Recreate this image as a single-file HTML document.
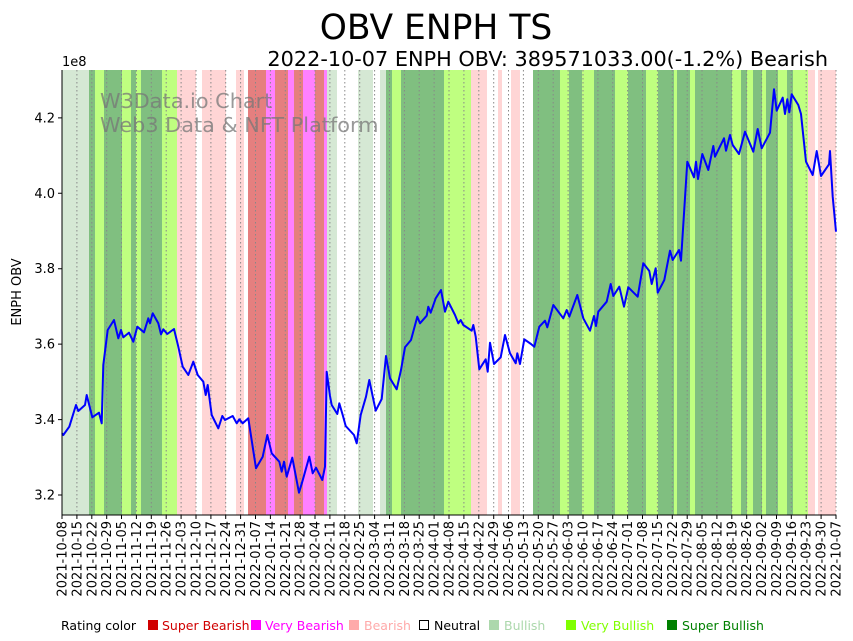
<!DOCTYPE html>
<html><head><meta charset="utf-8"><style>
body{margin:0;background:#fff}
svg{display:block;font-family:"DejaVu Sans","Liberation Sans",sans-serif}
</style></head><body>
<svg width="853" height="641" viewBox="0 0 853 641" xmlns="http://www.w3.org/2000/svg">
<rect width="853" height="641" fill="#fff"/>
<g shape-rendering="crispEdges">
<rect x="62" y="70" width="27" height="445" fill="#d5e8d4"/>
<rect x="89" y="70" width="6" height="445" fill="#80bf80"/>
<rect x="95" y="70" width="9" height="445" fill="#bfff80"/>
<rect x="104" y="70" width="18" height="445" fill="#80bf80"/>
<rect x="122" y="70" width="9" height="445" fill="#bfff80"/>
<rect x="131" y="70" width="5" height="445" fill="#80bf80"/>
<rect x="136" y="70" width="5" height="445" fill="#bfff80"/>
<rect x="141" y="70" width="21" height="445" fill="#80bf80"/>
<rect x="162" y="70" width="15" height="445" fill="#bfff80"/>
<rect x="177" y="70" width="19" height="445" fill="#ffd5d5"/>
<rect x="202" y="70" width="24" height="445" fill="#ffd5d5"/>
<rect x="236" y="70" width="8" height="445" fill="#ffd5d5"/>
<rect x="248" y="70" width="18" height="445" fill="#e57f7f"/>
<rect x="266" y="70" width="9" height="445" fill="#ff80ff"/>
<rect x="275" y="70" width="13" height="445" fill="#e57f7f"/>
<rect x="288" y="70" width="6" height="445" fill="#ff80ff"/>
<rect x="294" y="70" width="9" height="445" fill="#e57f7f"/>
<rect x="303" y="70" width="12" height="445" fill="#ff80ff"/>
<rect x="315" y="70" width="9" height="445" fill="#e57f7f"/>
<rect x="324" y="70" width="3" height="445" fill="#ff80ff"/>
<rect x="327" y="70" width="10" height="445" fill="#d5e8d4"/>
<rect x="358" y="70" width="15" height="445" fill="#d5e8d4"/>
<rect x="380" y="70" width="6" height="445" fill="#d5e8d4"/>
<rect x="386" y="70" width="6" height="445" fill="#80bf80"/>
<rect x="392" y="70" width="9" height="445" fill="#bfff80"/>
<rect x="401" y="70" width="43" height="445" fill="#80bf80"/>
<rect x="444" y="70" width="27" height="445" fill="#bfff80"/>
<rect x="471" y="70" width="16" height="445" fill="#ffd5d5"/>
<rect x="498" y="70" width="4" height="445" fill="#ffd5d5"/>
<rect x="511" y="70" width="9" height="445" fill="#ffd5d5"/>
<rect x="533" y="70" width="27" height="445" fill="#80bf80"/>
<rect x="560" y="70" width="9" height="445" fill="#bfff80"/>
<rect x="569" y="70" width="13" height="445" fill="#80bf80"/>
<rect x="582" y="70" width="12" height="445" fill="#bfff80"/>
<rect x="594" y="70" width="21" height="445" fill="#80bf80"/>
<rect x="615" y="70" width="13" height="445" fill="#bfff80"/>
<rect x="628" y="70" width="18" height="445" fill="#80bf80"/>
<rect x="646" y="70" width="12" height="445" fill="#bfff80"/>
<rect x="658" y="70" width="16" height="445" fill="#80bf80"/>
<rect x="674" y="70" width="3" height="445" fill="#bfff80"/>
<rect x="677" y="70" width="13" height="445" fill="#80bf80"/>
<rect x="690" y="70" width="5" height="445" fill="#bfff80"/>
<rect x="695" y="70" width="37" height="445" fill="#80bf80"/>
<rect x="732" y="70" width="9" height="445" fill="#bfff80"/>
<rect x="741" y="70" width="6" height="445" fill="#80bf80"/>
<rect x="747" y="70" width="6" height="445" fill="#bfff80"/>
<rect x="753" y="70" width="9" height="445" fill="#80bf80"/>
<rect x="762" y="70" width="4" height="445" fill="#bfff80"/>
<rect x="766" y="70" width="12" height="445" fill="#80bf80"/>
<rect x="778" y="70" width="9" height="445" fill="#bfff80"/>
<rect x="787" y="70" width="6" height="445" fill="#80bf80"/>
<rect x="793" y="70" width="15" height="445" fill="#bfff80"/>
<rect x="808" y="70" width="7" height="445" fill="#ffd5d5"/>
<rect x="818" y="70" width="18" height="445" fill="#ffd5d5"/>
</g>
<g stroke="#888" stroke-width="1" stroke-dasharray="1.5,2.5">
<path d="M62.0 70V515M76.9 70V515M91.8 70V515M106.7 70V515M121.5 70V515M136.4 70V515M151.3 70V515M166.2 70V515M181.1 70V515M196.0 70V515M210.9 70V515M225.7 70V515M240.6 70V515M255.5 70V515M270.4 70V515M285.3 70V515M300.2 70V515M315.0 70V515M329.9 70V515M344.8 70V515M359.7 70V515M374.6 70V515M389.5 70V515M404.4 70V515M419.2 70V515M434.1 70V515M449.0 70V515M463.9 70V515M478.8 70V515M493.7 70V515M508.5 70V515M523.4 70V515M538.3 70V515M553.2 70V515M568.1 70V515M583.0 70V515M597.9 70V515M612.7 70V515M627.6 70V515M642.5 70V515M657.4 70V515M672.3 70V515M687.2 70V515M702.0 70V515M716.9 70V515M731.8 70V515M746.7 70V515M761.6 70V515M776.5 70V515M791.3 70V515M806.2 70V515M821.1 70V515M836.0 70V515"/>
</g>
<g font-size="20.8" fill="#777" fill-opacity="0.75">
<text x="100" y="108">W3Data.io Chart</text>
<text x="100" y="132">Web3 Data &amp; NFT Platform</text>
</g>
<polyline fill="none" stroke="#0000ff" stroke-width="2" stroke-linejoin="round" points="62,433.3 63.3,435 69.3,426.7 76,405 78.3,411 85,405 86.7,395 92.3,417.3 99,412.7 101.7,423.3 103.3,365 107.7,330 114,320 118.3,338.3 121,330 123.3,337.3 129,332.7 133.3,341.7 137.3,326.7 144,332.3 148.3,318.3 150,323.3 152.7,313.3 158.3,323.3 161,334.3 163.3,329.3 167.3,334 174,329 178.3,346.7 182.7,366.7 188.3,375 193.3,361.7 197.7,375 203.3,381.7 205.7,395 207.7,385 211.7,415 218.3,428.3 222.3,416 225,420 232.7,416 236.7,423.3 239.3,419.3 242.7,423.3 248.3,418.3 256,468.3 262.7,456.7 267.3,435 271.7,453.3 279.3,461.7 281.7,471.7 284,461.7 286.7,476.7 292.3,457.7 299,492.7 302.3,481.7 309.3,456.7 312.7,473.3 316,467.7 322.3,480 325,466.7 326.7,371.7 330,396 331.7,405 337.3,414 339.3,403.3 342.7,415 345.7,426 354,435 356.7,443.3 360.7,415 366,396.7 369.3,380 375.7,410.7 381.7,399 386,356 390,378.3 396.7,389.3 401,370 405,347.3 411,340 417.3,316.7 420,323.3 426.7,315.7 428.3,306.7 430.7,312.7 435.7,298.3 441,290 445,311.7 448.3,301.7 455,315 458.3,323.3 460.7,320 463.3,325 471.7,330.7 473.3,325 475.7,336.7 479.3,369.3 485.7,359.3 487.7,371.7 490,342.7 494,364 500.7,357.3 505,335 510,353.3 515.7,363.3 517.3,353.3 520,364 524.3,339.3 531,344 534.3,346.7 539.3,326.7 545,320.7 547.3,327.3 553.3,305 563.3,318.3 566.7,310 569.3,316.7 577.3,295 583.3,318.3 590,330.7 594,316 596,326 598.3,311.7 606.7,301.7 610.7,284 613.3,296 619.3,286.7 624,306.7 628.3,287.3 637.7,296.7 643.3,263.3 649.3,271 651.7,284 655.7,268.3 657.7,292.7 664.3,280 670,250.7 672.7,260 679,250 681,260.7 687.3,161.7 694,177.3 696,161.7 698,179 702.3,154 708.3,170 713.3,146 715,156.7 724,138.3 726,150.7 730,135 732.7,145 739,154 745,131.7 753.3,151.7 757.7,129 761.7,148.3 770,132.7 774,89.3 776.7,110.7 782.7,97.7 785,114 787.3,99.3 789.3,112.3 791.7,94.3 798.3,105 801,114 806,161.7 812.7,175 816.7,151 821,176 829,164.3 830,151 832.7,196.7 836,231.7"/>
<g stroke="#000" stroke-width="1">
<line x1="62" y1="70" x2="62" y2="515.5"/>
<line x1="61.5" y1="515" x2="836" y2="515"/>
<path d="M58 495H62M58 419.6H62M58 344.1H62M58 268.7H62M58 193.3H62M58 117.9H62"/>
<path d="M62.0 515v4M76.9 515v4M91.8 515v4M106.7 515v4M121.5 515v4M136.4 515v4M151.3 515v4M166.2 515v4M181.1 515v4M196.0 515v4M210.9 515v4M225.7 515v4M240.6 515v4M255.5 515v4M270.4 515v4M285.3 515v4M300.2 515v4M315.0 515v4M329.9 515v4M344.8 515v4M359.7 515v4M374.6 515v4M389.5 515v4M404.4 515v4M419.2 515v4M434.1 515v4M449.0 515v4M463.9 515v4M478.8 515v4M493.7 515v4M508.5 515v4M523.4 515v4M538.3 515v4M553.2 515v4M568.1 515v4M583.0 515v4M597.9 515v4M612.7 515v4M627.6 515v4M642.5 515v4M657.4 515v4M672.3 515v4M687.2 515v4M702.0 515v4M716.9 515v4M731.8 515v4M746.7 515v4M761.6 515v4M776.5 515v4M791.3 515v4M806.2 515v4M821.1 515v4M836.0 515v4"/>
</g>
<g font-size="13" fill="#000" text-anchor="end">
<text x="55" y="499.5">3.2</text>
<text x="55" y="424.1">3.4</text>
<text x="55" y="348.6">3.6</text>
<text x="55" y="273.2">3.8</text>
<text x="55" y="197.8">4.0</text>
<text x="55" y="122.4">4.2</text>
</g>
<text x="62" y="66" font-size="13">1e8</text>
<text transform="translate(21,292) rotate(-90)" font-size="13" text-anchor="middle">ENPH OBV</text>
<text x="436" y="39" font-size="34.5" text-anchor="middle">OBV ENPH TS</text>
<text x="828" y="66" font-size="20.8" text-anchor="end">2022-10-07 ENPH OBV: 389571033.00(-1.2%) Bearish</text>
<g font-size="13" fill="#000" text-anchor="end">
<text transform="translate(66.5,521) rotate(-90)">2021-10-08</text>
<text transform="translate(81.4,521) rotate(-90)">2021-10-15</text>
<text transform="translate(96.3,521) rotate(-90)">2021-10-22</text>
<text transform="translate(111.2,521) rotate(-90)">2021-10-29</text>
<text transform="translate(126.0,521) rotate(-90)">2021-11-05</text>
<text transform="translate(140.9,521) rotate(-90)">2021-11-12</text>
<text transform="translate(155.8,521) rotate(-90)">2021-11-19</text>
<text transform="translate(170.7,521) rotate(-90)">2021-11-26</text>
<text transform="translate(185.6,521) rotate(-90)">2021-12-03</text>
<text transform="translate(200.5,521) rotate(-90)">2021-12-10</text>
<text transform="translate(215.4,521) rotate(-90)">2021-12-17</text>
<text transform="translate(230.2,521) rotate(-90)">2021-12-24</text>
<text transform="translate(245.1,521) rotate(-90)">2021-12-31</text>
<text transform="translate(260.0,521) rotate(-90)">2022-01-07</text>
<text transform="translate(274.9,521) rotate(-90)">2022-01-14</text>
<text transform="translate(289.8,521) rotate(-90)">2022-01-21</text>
<text transform="translate(304.7,521) rotate(-90)">2022-01-28</text>
<text transform="translate(319.5,521) rotate(-90)">2022-02-04</text>
<text transform="translate(334.4,521) rotate(-90)">2022-02-11</text>
<text transform="translate(349.3,521) rotate(-90)">2022-02-18</text>
<text transform="translate(364.2,521) rotate(-90)">2022-02-25</text>
<text transform="translate(379.1,521) rotate(-90)">2022-03-04</text>
<text transform="translate(394.0,521) rotate(-90)">2022-03-11</text>
<text transform="translate(408.9,521) rotate(-90)">2022-03-18</text>
<text transform="translate(423.7,521) rotate(-90)">2022-03-25</text>
<text transform="translate(438.6,521) rotate(-90)">2022-04-01</text>
<text transform="translate(453.5,521) rotate(-90)">2022-04-08</text>
<text transform="translate(468.4,521) rotate(-90)">2022-04-15</text>
<text transform="translate(483.3,521) rotate(-90)">2022-04-22</text>
<text transform="translate(498.2,521) rotate(-90)">2022-04-29</text>
<text transform="translate(513.0,521) rotate(-90)">2022-05-06</text>
<text transform="translate(527.9,521) rotate(-90)">2022-05-13</text>
<text transform="translate(542.8,521) rotate(-90)">2022-05-20</text>
<text transform="translate(557.7,521) rotate(-90)">2022-05-27</text>
<text transform="translate(572.6,521) rotate(-90)">2022-06-03</text>
<text transform="translate(587.5,521) rotate(-90)">2022-06-10</text>
<text transform="translate(602.4,521) rotate(-90)">2022-06-17</text>
<text transform="translate(617.2,521) rotate(-90)">2022-06-24</text>
<text transform="translate(632.1,521) rotate(-90)">2022-07-01</text>
<text transform="translate(647.0,521) rotate(-90)">2022-07-08</text>
<text transform="translate(661.9,521) rotate(-90)">2022-07-15</text>
<text transform="translate(676.8,521) rotate(-90)">2022-07-22</text>
<text transform="translate(691.7,521) rotate(-90)">2022-07-29</text>
<text transform="translate(706.5,521) rotate(-90)">2022-08-05</text>
<text transform="translate(721.4,521) rotate(-90)">2022-08-12</text>
<text transform="translate(736.3,521) rotate(-90)">2022-08-19</text>
<text transform="translate(751.2,521) rotate(-90)">2022-08-26</text>
<text transform="translate(766.1,521) rotate(-90)">2022-09-02</text>
<text transform="translate(781.0,521) rotate(-90)">2022-09-09</text>
<text transform="translate(795.8,521) rotate(-90)">2022-09-16</text>
<text transform="translate(810.7,521) rotate(-90)">2022-09-23</text>
<text transform="translate(825.6,521) rotate(-90)">2022-09-30</text>
<text transform="translate(840.5,521) rotate(-90)">2022-10-07</text>
</g>
<g font-size="12.5">
<text x="61" y="630" fill="#000">Rating color</text>
<rect x="148" y="620" width="10" height="10" fill="#d00000"/>
<text x="162" y="630" fill="#d00000">Super Bearish</text>
<rect x="251" y="620" width="10" height="10" fill="#ff00ff"/>
<text x="265" y="630" fill="#ff00ff">Very Bearish</text>
<rect x="349" y="620" width="10" height="10" fill="#ffaaaa"/>
<text x="364" y="630" fill="#ffaaaa">Bearish</text>
<rect x="419.5" y="620.5" width="9" height="9" fill="#fff" stroke="#000"/>
<text x="434" y="630" fill="#000">Neutral</text>
<rect x="489" y="620" width="10" height="10" fill="#acd8ac"/>
<text x="504" y="630" fill="#acd8ac">Bullish</text>
<rect x="566" y="620" width="10" height="10" fill="#80ff00"/>
<text x="581" y="630" fill="#80ff00">Very Bullish</text>
<rect x="667" y="620" width="10" height="10" fill="#008000"/>
<text x="682" y="630" fill="#008000">Super Bullish</text>
</g>
</svg>
</body></html>
